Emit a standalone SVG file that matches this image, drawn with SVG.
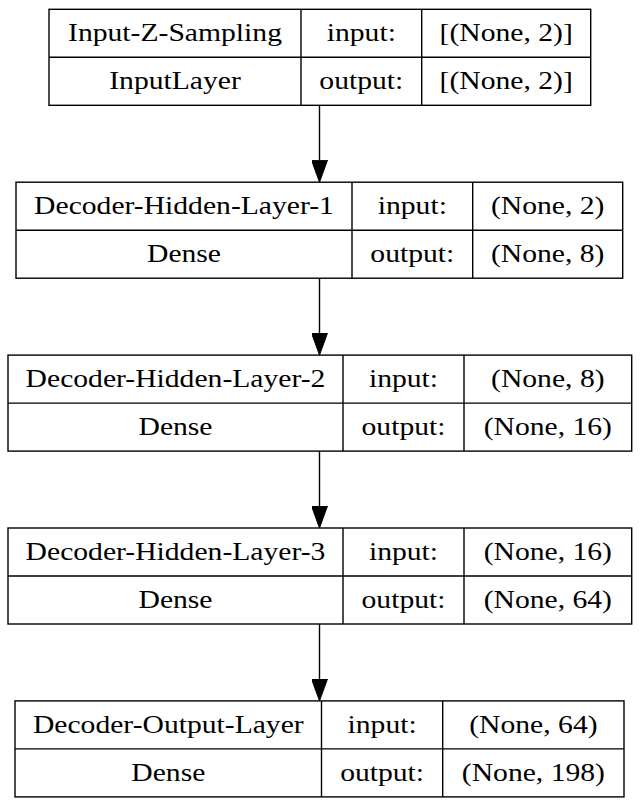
<svg xmlns="http://www.w3.org/2000/svg" width="640" height="806" viewBox="0 0 640 806">
  <style>
    .box { fill: #ffffff; stroke: #000000; stroke-width: 1.4; }
    .div { stroke: #000000; stroke-width: 1.4; fill: none; }
    .lbl { font-family: "Liberation Serif", "Times New Roman", serif; font-size: 26px; fill: #000000; text-anchor: middle; }
    .edge { stroke: #000000; stroke-width: 1.4; fill: none; }
  </style>
  <defs>
    <marker id="arrow" viewBox="0 0 22 16" refX="0" refY="8" markerWidth="22" markerHeight="16" markerUnits="userSpaceOnUse" orient="auto">
      <path d="M0,0 L22,8 L0,16 Z" fill="#000000" stroke="#000000" stroke-width="1"/>
    </marker>
  </defs>
  <rect width="640" height="806" fill="#ffffff"/>

  <g id="connectors">
    <line class="edge" x1="319.5" y1="105.3" x2="319.5" y2="160.2" marker-end="url(#arrow)"/>
    <line class="edge" x1="319.5" y1="278.2" x2="319.5" y2="333.1" marker-end="url(#arrow)"/>
    <line class="edge" x1="319.5" y1="451.1" x2="319.5" y2="506.0" marker-end="url(#arrow)"/>
    <line class="edge" x1="319.5" y1="624.0" x2="319.5" y2="678.9" marker-end="url(#arrow)"/>
  </g>

  <g id="node-input-z-sampling">
    <rect class="box" x="49" y="9.3" width="541.7" height="96"/>
    <path class="div" d="M49,57.3 H590.7 M301,9.3 V105.3 M421.7,9.3 V105.3"/>
    <text class="lbl" transform="translate(175,41) scale(1.14,1)">Input-Z-Sampling</text>
    <text class="lbl" transform="translate(361.3,41) scale(1.14,1)">input:</text>
    <text class="lbl" transform="translate(506.2,41) scale(1.14,1)">[(None, 2)]</text>
    <text class="lbl" transform="translate(175,89) scale(1.14,1)">InputLayer</text>
    <text class="lbl" transform="translate(361.3,89) scale(1.14,1)">output:</text>
    <text class="lbl" transform="translate(506.2,89) scale(1.14,1)">[(None, 2)]</text>
  </g>

  <g id="node-decoder-hidden-layer-1">
    <rect class="box" x="16" y="182.2" width="606.7" height="96"/>
    <path class="div" d="M16,230.2 H622.7 M352,182.2 V278.2 M472.7,182.2 V278.2"/>
    <text class="lbl" transform="translate(184,213.9) scale(1.14,1)">Decoder-Hidden-Layer-1</text>
    <text class="lbl" transform="translate(412.3,213.9) scale(1.14,1)">input:</text>
    <text class="lbl" transform="translate(547.7,213.9) scale(1.14,1)">(None, 2)</text>
    <text class="lbl" transform="translate(184,261.9) scale(1.14,1)">Dense</text>
    <text class="lbl" transform="translate(412.3,261.9) scale(1.14,1)">output:</text>
    <text class="lbl" transform="translate(547.7,261.9) scale(1.14,1)">(None, 8)</text>
  </g>

  <g id="node-decoder-hidden-layer-2">
    <rect class="box" x="8" y="355.1" width="623.7" height="96"/>
    <path class="div" d="M8,403.1 H631.7 M343,355.1 V451.1 M464,355.1 V451.1"/>
    <text class="lbl" transform="translate(175.5,386.8) scale(1.14,1)">Decoder-Hidden-Layer-2</text>
    <text class="lbl" transform="translate(403.5,386.8) scale(1.14,1)">input:</text>
    <text class="lbl" transform="translate(547.8,386.8) scale(1.14,1)">(None, 8)</text>
    <text class="lbl" transform="translate(175.5,434.8) scale(1.14,1)">Dense</text>
    <text class="lbl" transform="translate(403.5,434.8) scale(1.14,1)">output:</text>
    <text class="lbl" transform="translate(547.8,434.8) scale(1.14,1)">(None, 16)</text>
  </g>

  <g id="node-decoder-hidden-layer-3">
    <rect class="box" x="8" y="528" width="623.7" height="96"/>
    <path class="div" d="M8,576 H631.7 M343,528 V624 M464,528 V624"/>
    <text class="lbl" transform="translate(175.5,559.7) scale(1.14,1)">Decoder-Hidden-Layer-3</text>
    <text class="lbl" transform="translate(403.5,559.7) scale(1.14,1)">input:</text>
    <text class="lbl" transform="translate(547.8,559.7) scale(1.14,1)">(None, 16)</text>
    <text class="lbl" transform="translate(175.5,607.7) scale(1.14,1)">Dense</text>
    <text class="lbl" transform="translate(403.5,607.7) scale(1.14,1)">output:</text>
    <text class="lbl" transform="translate(547.8,607.7) scale(1.14,1)">(None, 64)</text>
  </g>

  <g id="node-decoder-output-layer">
    <rect class="box" x="15" y="700.9" width="609" height="96"/>
    <path class="div" d="M15,748.9 H624 M321.5,700.9 V796.9 M442.7,700.9 V796.9"/>
    <text class="lbl" transform="translate(168.3,732.6) scale(1.14,1)">Decoder-Output-Layer</text>
    <text class="lbl" transform="translate(382.1,732.6) scale(1.14,1)">input:</text>
    <text class="lbl" transform="translate(533.4,732.6) scale(1.14,1)">(None, 64)</text>
    <text class="lbl" transform="translate(168.3,780.6) scale(1.14,1)">Dense</text>
    <text class="lbl" transform="translate(382.1,780.6) scale(1.14,1)">output:</text>
    <text class="lbl" transform="translate(533.4,780.6) scale(1.14,1)">(None, 198)</text>
  </g>
</svg>
